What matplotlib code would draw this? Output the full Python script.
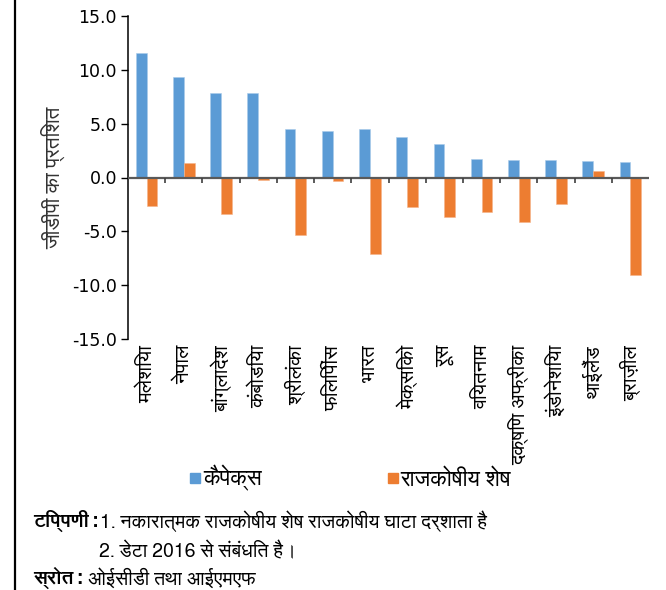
import matplotlib
matplotlib.use("Agg")
import matplotlib.pyplot as plt
from matplotlib import font_manager
from matplotlib.ft2font import FT2Font
from matplotlib.lines import Line2D
import numpy as np

# ---- data -------------------------------------------------------------
countries = ["मलेशिया", "नेपाल", "बांग्लादेश", "कंबोडिया", "श्रीलंका", "फिलिपींस",
             "भारत", "मेक्सिको", "रूस", "वियतनाम", "दक्षिण अफ्रीका",
             "इंडोनेशिया", "थाईलैंड", "ब्राज़ील"]
capex = [11.5, 9.3, 7.8, 7.8, 4.5, 4.3, 4.5, 3.8, 3.1, 1.7, 1.6, 1.6, 1.5, 1.4]
fiscal_balance = [-2.6, 1.3, -3.4, -0.2, -5.3, -0.3, -7.1, -2.7, -3.7, -3.2,
                  -4.1, -2.5, 0.6, -9.0]
yticks = [-15.0, -10.0, -5.0, 0.0, 5.0, 10.0, 15.0]
series_names = ["कैपेक्स", "राजकोषीय शेष"]
ylabel = "जीडीपी का प्रतिशत"
note_head = "टिप्पणी:"
note_lines = ["1. नकारात्मक राजकोषीय शेष राजकोषीय घाटा दर्शाता है",
              "2. डेटा 2016 से संबंधित है।"]
source_head = "स्रोत:"
source_text = "ओईसीडी तथा आईएमएफ"

BLUE = "#5B9BD5"
ORANGE = "#ED7D31"


# ---- pick a family that covers Devanagari ------------------------------
def devanagari_family():
    preferred = []
    others = []
    for fe in font_manager.fontManager.ttflist:
        try:
            cmap = FT2Font(fe.fname).get_charmap()
        except Exception:
            continue
        if 0x0915 in cmap and 0x093F in cmap:
            if "Sans" in fe.name:
                preferred.append(fe.name)
            else:
                others.append(fe.name)
    for lst in (preferred, others):
        if lst:
            return lst[0]
    return None


deva = devanagari_family()
families = ([deva] if deva else []) + ["DejaVu Sans"]
plt.rcParams["font.family"] = families

fig = plt.figure(figsize=(6.66, 5.90), dpi=100)
ax = fig.add_axes([128 / 666, 1 - 339.3 / 590, (649 - 128) / 666, (339.3 - 15.7) / 590])

x = np.arange(len(countries))
w = 0.29
ax.bar(x - w / 2, capex, width=w, color=BLUE, edgecolor="#A9CBEA", linewidth=0.4, zorder=2)
ax.bar(x + w / 2, fiscal_balance, width=w, color=ORANGE, edgecolor="#F5B48A", linewidth=0.4, zorder=2)

ax.set_xlim(-0.5, len(countries) - 0.5)
ax.set_ylim(-15, 15)
ax.set_yticks(yticks)
ax.set_yticklabels([f"{v:.1f}" for v in yticks], fontsize=12.5, family="DejaVu Sans")
ax.tick_params(axis="y", direction="out", length=5, width=1, color="black", pad=3)

# zero line with category separators
ax.axhline(0, color="#595959", lw=1.6, zorder=3)
ax.vlines(x[:-1] + 0.5, -0.55, 0, color="#404040", lw=1.2, zorder=3)

for s in ("top", "right", "bottom"):
    ax.spines[s].set_visible(False)
ax.spines["left"].set_linewidth(1.1)

ax.set_xticks(x)
ax.set_xticklabels(countries, rotation=90, fontsize=14.5, va="top", ha="center")
ax.tick_params(axis="x", length=0, pad=4)

ax.set_ylabel(ylabel, fontsize=15, labelpad=5, color="#333333")

# legend
handles = [Line2D([], [], marker="s", ls="none", color=BLUE, markersize=6.5),
           Line2D([], [], marker="s", ls="none", color=ORANGE, markersize=6.5)]
fig.legend(handles, series_names, loc="center", bbox_to_anchor=(350 / 666, 1 - 478 / 590),
           ncol=2, frameon=False, fontsize=16, handletextpad=0.05, columnspacing=5.6,
           handlelength=0.6, borderpad=0, borderaxespad=0)

# notes below the chart
fs = 14
fig.canvas.draw()
renderer = fig.canvas.get_renderer()

t1 = fig.text(33 / 666, 1 - 521 / 590, note_head, fontsize=fs, weight="bold", va="center")
fig.text(100 / 666, 1 - 521 / 590, note_lines[0], fontsize=fs, va="center")
fig.text(99 / 666, 1 - 551 / 590, note_lines[1], fontsize=fs, va="center")
t2 = fig.text(33 / 666, 1 - 578 / 590, source_head, fontsize=fs, weight="bold", va="center")
bb = t2.get_window_extent(renderer)
fig.text((bb.x1 + 5) / 666, 1 - 578 / 590, source_text, fontsize=fs, va="center")

# frame line at the left edge
fig.add_artist(Line2D([15 / 666, 15 / 666], [0, 1], color="black", lw=1.6,
                      transform=fig.transFigure))

fig.savefig("out.png", dpi=100)
